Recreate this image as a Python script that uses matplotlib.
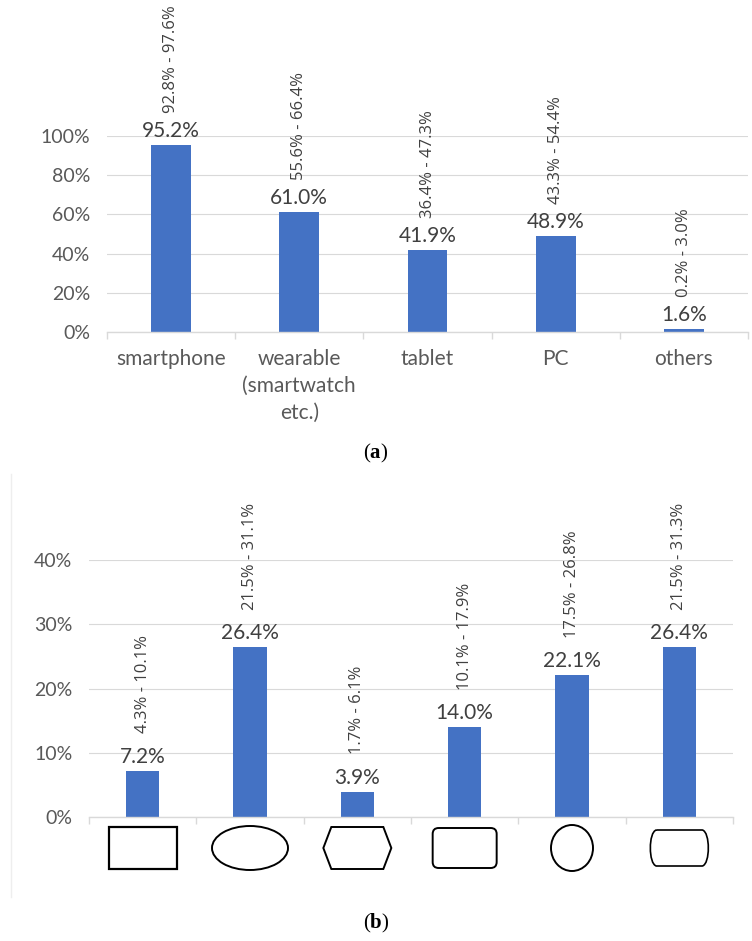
import numpy as np
import matplotlib.pyplot as plt
from matplotlib.patches import Rectangle, Ellipse, FancyBboxPatch, Polygon, PathPatch
from matplotlib.path import Path

plt.rcParams['mathtext.fontset'] = 'custom'
plt.rcParams['mathtext.rm'] = 'Liberation Serif'
plt.rcParams['mathtext.bf'] = 'Liberation Serif:bold'

# data (a)
dev_labels = ['smartphone', 'wearable\n(smartwatch\netc.)', 'tablet', 'PC', 'others']
dev_vals = [95.2, 61.0, 41.9, 48.9, 1.6]
dev_lo = [92.8, 55.6, 36.4, 43.3, 0.2]
dev_hi = [97.6, 66.4, 47.3, 54.4, 3.0]

# data (b)
shape_names = ['rect', 'ellipse', 'hexagon', 'roundrect', 'oval', 'barrel']
shape_vals = [7.2, 26.4, 3.9, 14.0, 22.1, 26.4]
shape_lo = [4.3, 21.5, 1.7, 10.1, 17.5, 21.5]
shape_hi = [10.1, 31.1, 6.1, 17.9, 26.8, 31.3]

BLUE = '#4472C4'
GRID = '#d9d9d9'
TXT = '#404040'
TICK = '#595959'
NARROW = ['Lato', 'DejaVu Sans']
RANGEF = ['Open Sans', 'DejaVu Sans']

W, H = 752, 941
fig = plt.figure(figsize=(W / 100, H / 100), dpi=100)


def ax_at(x0, x1, y_top, y_bot):
    return fig.add_axes([x0 / W, 1 - y_bot / H, (x1 - x0) / W, (y_bot - y_top) / H])


def style(ax, n, ymax, step):
    ax.set_xlim(-0.5, n - 0.5)
    ax.set_ylim(0, ymax)
    yt = np.arange(0, ymax + 0.01, step)
    ax.set_yticks(yt)
    ax.set_yticklabels(['%d%%' % v for v in yt], fontsize=14, color=TICK, family=NARROW)
    ax.grid(axis='y', color=GRID, lw=0.8)
    ax.set_axisbelow(True)
    for s in ['top', 'right', 'left']:
        ax.spines[s].set_visible(False)
    ax.spines['bottom'].set_color(GRID)
    ax.spines['bottom'].set_linewidth(1.0)
    ax.tick_params(axis='y', length=0, pad=12)
    ax.set_xticks(np.arange(n + 1) - 0.5, minor=True)
    ax.tick_params(axis='x', which='minor', length=5, color=GRID, width=1)
    ax.tick_params(axis='x', which='major', length=0)


def labels(ax, vals, lo, hi, off_range):
    x = np.arange(len(vals))
    for xi, v, l, h in zip(x, vals, lo, hi):
        ax.annotate('%.1f%%' % v, (xi, v), xytext=(0, 3), textcoords='offset points',
                    ha='center', va='bottom', fontsize=15, color=TXT, family=NARROW,
                    annotation_clip=False)
        ax.annotate('%.1f%% - %.1f%%' % (l, h), (xi, v), xytext=(0, off_range),
                    textcoords='offset points', ha='center', va='bottom', rotation=90,
                    fontsize=12, color=TXT, family=RANGEF, annotation_clip=False)


# panel (a)
ax1 = ax_at(107, 748, 136, 332)
style(ax1, len(dev_vals), 100, 20)
ax1.bar(np.arange(len(dev_vals)), dev_vals, width=0.31, color=BLUE)
ax1.set_xticks(np.arange(len(dev_vals)))
ax1.set_xticklabels(dev_labels, fontsize=15, color=TICK, family=NARROW, linespacing=1.45)
ax1.tick_params(axis='x', which='major', pad=12)
labels(ax1, dev_vals, dev_lo, dev_hi, 23)

# panel (b)
ax2 = ax_at(89, 733, 560, 817)
style(ax2, len(shape_vals), 40, 10)
ax2.bar(np.arange(len(shape_vals)), shape_vals, width=0.31, color=BLUE)
ax2.set_xticks(np.arange(len(shape_vals)))
ax2.set_xticklabels([])
labels(ax2, shape_vals, shape_lo, shape_hi, 27)

# shapes under the axis, drawn in pixel units
sw = 733 - 89
sax = ax_at(89, 733, 822, 876)
sax.set_xlim(0, sw)
sax.set_ylim(54, 0)
sax.axis('off')
cw = sw / len(shape_names)
cy = 26
kw = dict(fill=False, ec='black', lw=1.4)
for i, nm in enumerate(shape_names):
    cx = (i + 0.5) * cw
    if nm == 'rect':
        sax.add_patch(Rectangle((cx - 34, cy - 21), 68, 42, lw=1.6, fill=False, ec='black'))
    elif nm == 'ellipse':
        sax.add_patch(Ellipse((cx, cy), 76, 44, **kw))
    elif nm == 'hexagon':
        w, h = 68, 42
        pts = [(cx - w / 2 + 8, cy - h / 2), (cx + w / 2 - 8, cy - h / 2), (cx + w / 2, cy),
               (cx + w / 2 - 8, cy + h / 2), (cx - w / 2 + 8, cy + h / 2), (cx - w / 2, cy)]
        sax.add_patch(Polygon(pts, closed=True, **kw))
    elif nm == 'roundrect':
        sax.add_patch(FancyBboxPatch((cx - 32, cy - 20), 64, 40,
                                     boxstyle='round,pad=0,rounding_size=6', **kw))
    elif nm == 'oval':
        sax.add_patch(Ellipse((cx, cy), 42, 46, **kw))
    elif nm == 'barrel':
        w, h = 58, 36
        x0, x1 = cx - w / 2, cx + w / 2
        y0, y1 = cy - h / 2, cy + h / 2
        b = 8
        verts = [(x0 + 6, y0), (x1 - 6, y0), (x1 + b - 6, y0 + 2), (x1 + b - 6, y1 - 2), (x1 - 6, y1),
                 (x0 + 6, y1), (x0 - b + 6, y1 - 2), (x0 - b + 6, y0 + 2), (x0 + 6, y0)]
        codes = [Path.MOVETO, Path.LINETO, Path.CURVE4, Path.CURVE4, Path.CURVE4,
                 Path.LINETO, Path.CURVE4, Path.CURVE4, Path.CURVE4]
        sax.add_patch(PathPatch(Path(verts, codes), fill=False, ec='black', lw=1.2))

# faint frame edge of panel (b)
fig.add_artist(plt.Line2D([11 / W, 11 / W], [1 - 897 / H, 1 - 474 / H], color='#eeeeee', lw=1))

fig.text(0.5, 1 - 453 / H, r'$(\mathbf{a})$', ha='center', va='center', fontsize=15)
fig.text(0.5, 1 - 923 / H, r'$(\mathbf{b})$', ha='center', va='center', fontsize=15)

fig.savefig('out.png', dpi=100)
